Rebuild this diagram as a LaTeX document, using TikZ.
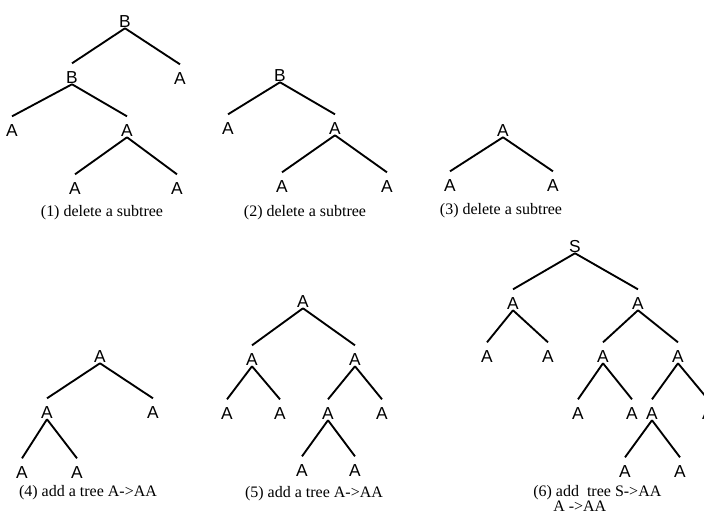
\documentclass[tikz,border=0pt]{standalone}
\usepackage{fontspec}
\setmainfont{Liberation Serif}
\newfontfamily\symfont{Liberation Sans}

\begin{document}
\begin{tikzpicture}[x=0.75pt, y=0.75pt,
	sym/.style={font=\symfont\fontsize{13}{13}\selectfont, inner sep=0pt, text height=15.3pt, text depth=0pt, anchor=base},
	caption/.style={font=\fontsize{12}{11.25}\selectfont, inner sep=0pt, anchor=base},
	branch/.style={line width=1.4pt}]
	\useasboundingbox (0, 0) rectangle (704, -513);
	
	% (1)
	\node[sym] (t1r) at (125, -28) {B};
	\node[sym] (t1b) at (72, -84) {B};
	\node[sym] (t1a) at (180, -85) {A};
	\node[sym] (t1ba) at (12, -137) {A};
	\node[sym] (t1bb) at (127, -137) {A};
	\node[sym] (t1bba) at (75, -195) {A};
	\node[sym] (t1bbb) at (177, -195) {A};
	\node[caption] (cap1) at (102, -217) {(1) delete a subtree};
	
	% (2)
	\node[sym] (t2r) at (280, -82) {B};
	\node[sym] (t2a) at (228, -135) {A};
	\node[sym] (t2b) at (335, -135) {A};
	\node[sym] (t2ba) at (282, -193) {A};
	\node[sym] (t2bb) at (387, -193) {A};
	\node[caption] (cap2) at (305, -217) {(2) delete a subtree};
	
	% (3)
	\node[sym] (t3r) at (503, -137) {A};
	\node[sym] (t3a) at (450, -192) {A};
	\node[sym] (t3b) at (553, -192) {A};
	\node[caption] (cap3) at (501, -215) {(3) delete a subtree};
	
	% (4)
	\node[sym] (t4r) at (100, -363) {A};
	\node[sym] (t4a) at (47, -419) {A};
	\node[sym] (t4b) at (153, -419) {A};
	\node[sym] (t4aa) at (22, -479) {A};
	\node[sym] (t4ab) at (77, -479) {A};
	\node[caption] (cap4) at (88, -497) {(4) add a tree A->AA};
	
	% (5)
	\node[sym] (t5r) at (303, -308) {A};
	\node[sym] (t5a) at (252, -366) {A};
	\node[sym] (t5b) at (355, -366) {A};
	\node[sym] (t5aa) at (227, -420) {A};
	\node[sym] (t5ab) at (280, -420) {A};
	\node[sym] (t5ba) at (328, -420) {A};
	\node[sym] (t5bb) at (382, -420) {A};
	\node[sym] (t5baa) at (302, -477) {A};
	\node[sym] (t5bab) at (355, -477) {A};
	\node[caption] (cap5) at (314, -498) {(5) add a tree A->AA};
	
	% (6)
	\node[sym] (t6r) at (575, -253) {S};
	\node[sym] (t6a) at (513, -310) {A};
	\node[sym] (t6b) at (638, -310) {A};
	\node[sym] (t6aa) at (487, -363) {A};
	\node[sym] (t6ab) at (548, -363) {A};
	\node[sym] (t6ba) at (603, -363) {A};
	\node[sym] (t6bb) at (678, -363) {A};
	\node[sym] (t6baa) at (578, -420) {A};
	\node[sym] (t6bab) at (632, -420) {A};
	\node[sym] (t6bba) at (652, -420) {A};
	\node[sym] (t6bbb) at (708, -420) {A};
	\node[sym] (t6bbaa) at (625, -478) {A};
	\node[sym] (t6bbab) at (680, -478) {A};
	\node[caption, anchor=base west, align=left] (cap6) at (533, -512) {(6) add\ \ tree S->AA\\\hspace*{15pt}A ->AA};
	
	\foreach \p/\c in {t1r/t1b, t1r/t1a, t1b/t1ba, t1b/t1bb, t1bb/t1bba, t1bb/t1bbb,
		t2r/t2a, t2r/t2b, t2b/t2ba, t2b/t2bb,
		t3r/t3a, t3r/t3b,
		t4r/t4a, t4r/t4b, t4a/t4aa, t4a/t4ab,
		t5r/t5a, t5r/t5b, t5a/t5aa, t5a/t5ab, t5b/t5ba, t5b/t5bb, t5ba/t5baa, t5ba/t5bab,
		t6r/t6a, t6r/t6b, t6a/t6aa, t6a/t6ab, t6b/t6ba, t6b/t6bb, t6ba/t6baa, t6ba/t6bab,
		t6bb/t6bba, t6bb/t6bbb, t6bba/t6bbaa, t6bba/t6bbab}
		\draw[branch] (\p.south) -- (\c.north);
\end{tikzpicture}
\end{document}
